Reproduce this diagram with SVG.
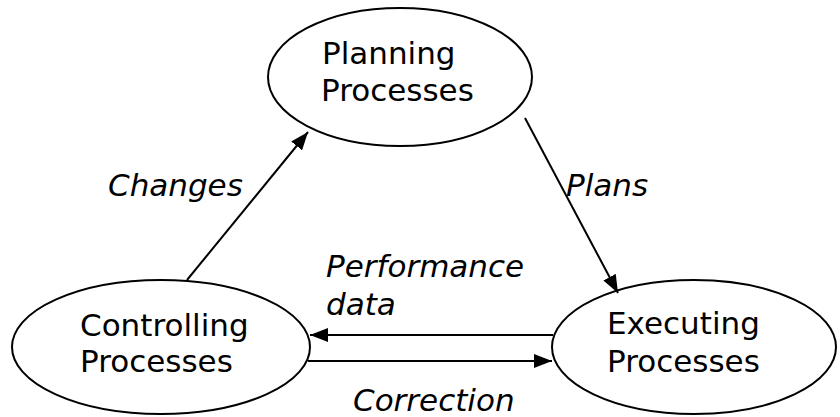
<svg xmlns="http://www.w3.org/2000/svg" width="840" height="417" viewBox="0 0 840 417">
<style>
.node ellipse{fill:#fff;stroke:#000;stroke-width:2}
.t{font-family:"DejaVu Sans",Verdana,sans-serif;font-size:31px;fill:#000}
.l{font-family:"DejaVu Sans",Verdana,sans-serif;font-size:31px;font-style:italic;fill:#000}
.c line{stroke:#000;stroke-width:2;marker-end:url(#ah)}
</style>
<defs>
<marker id="ah" viewBox="0 0 18 14" refX="18" refY="7" markerWidth="18" markerHeight="14" markerUnits="userSpaceOnUse" orient="auto">
<path d="M0,0 L18,7 L0,14 Z" fill="#000"/>
</marker>
</defs>
<g id="planning" class="node">
<ellipse cx="400" cy="77" rx="132" ry="69"/>
<text class="t" x="322" y="64">Planning</text>
<text class="t" x="321" y="101">Processes</text>
</g>
<g id="controlling" class="node">
<ellipse cx="161" cy="347" rx="149" ry="67"/>
<text class="t" x="80" y="336">Controlling</text>
<text class="t" x="80" y="372">Processes</text>
</g>
<g id="executing" class="node">
<ellipse cx="694" cy="347" rx="142" ry="67"/>
<text class="t" x="607" y="334">Executing</text>
<text class="t" x="607" y="372">Processes</text>
</g>
<g id="connectors" class="c">
<line x1="187" y1="280" x2="308" y2="132"/>
<line x1="525" y1="118" x2="618" y2="293"/>
<line x1="553" y1="335" x2="310" y2="335"/>
<line x1="308" y1="361" x2="552" y2="361"/>
</g>
<g id="labels">
<text class="l" x="108" y="196">Changes</text>
<text class="l" x="566" y="196">Plans</text>
<text class="l" x="326" y="277">Performance</text>
<text class="l" x="326" y="315">data</text>
<text class="l" x="353" y="411">Correction</text>
</g>
</svg>
